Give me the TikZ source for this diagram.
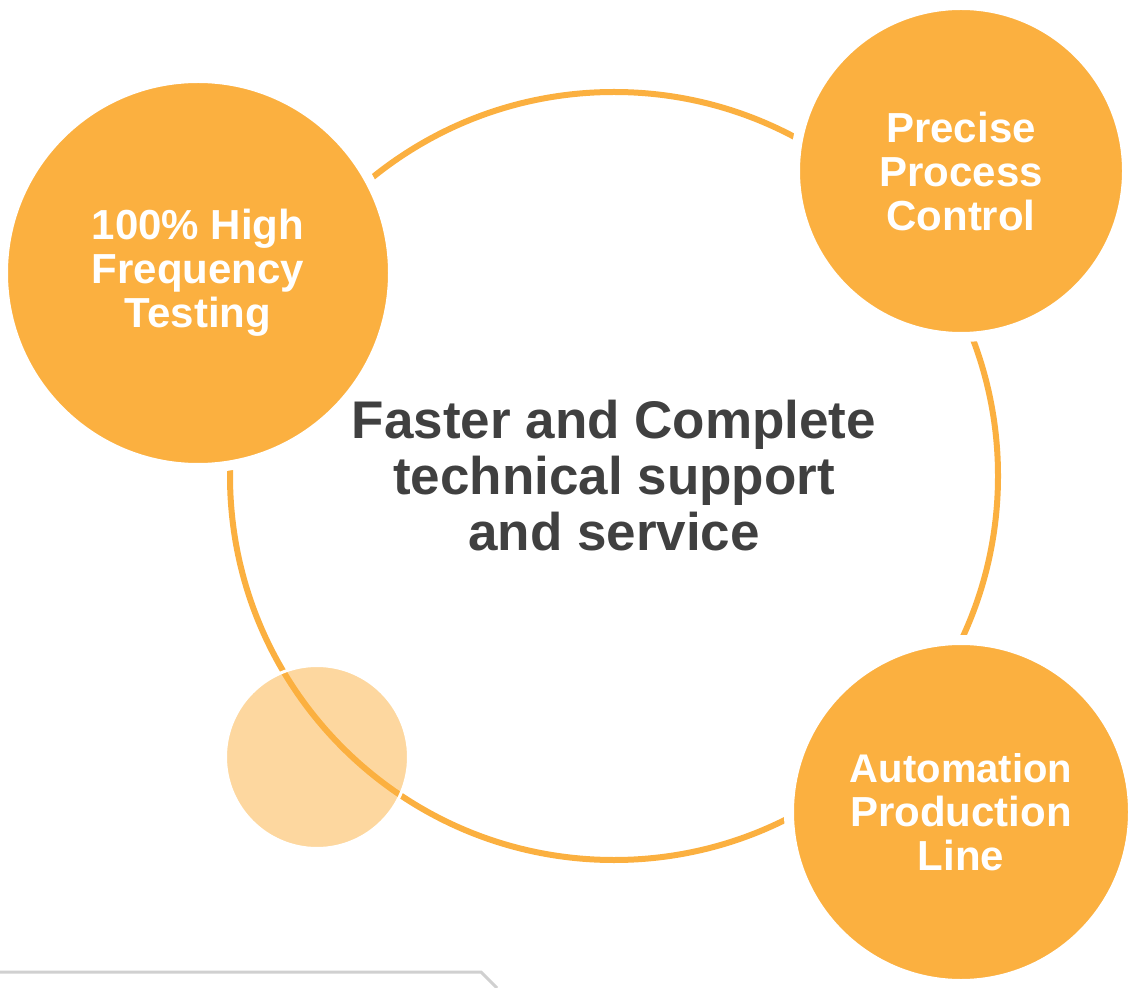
\documentclass[tikz,border=0pt]{standalone}
\usepackage{fontspec}
\setmainfont{Liberation Sans}
\definecolor{amber}{HTML}{FBB040}
\definecolor{slate}{HTML}{404040}
\definecolor{rulegray}{HTML}{D0D0D0}
\newcommand{\feature}[4]{%
 \node[feature,minimum size={#3}] ({#1}) at ({#2}) {#4};%
}
\begin{document}
\begin{tikzpicture}[x=0.5pt,y=-0.5pt,
  feature/.style={circle,fill=amber,draw=white,line width=5pt,text=white,
    inner sep=0pt,align=center,font=\bfseries\fontsize{21}{22}\selectfont}]
  \useasboundingbox (0,0) rectangle (1134,988);
  \node[circle,draw=amber,line width=3pt,minimum size=384pt] (ring) at (614,476) {};
  \node[circle,fill=amber,fill opacity=.5,draw=white,draw opacity=1,line width=1.5pt,minimum size=91.5pt] (spot) at (317,757) {};
  \feature{testing}{198,273}{195pt}{100\% High\\Frequency\\Testing};
  \feature{control}{961,171}{166pt}{Precise\\Process\\Control};
  \feature{line}{961,812}{172pt}{\fontsize{20}{20.5}\selectfont Automation\\Production\\Line};
  \node[text=slate,align=center,font=\bfseries\fontsize{26.5}{28}\selectfont] (core) at (614,476) {Faster and Complete\\technical support\\and service};
  \coordinate (base0) at (0,972);
  \coordinate (base1) at (481,972);
  \coordinate (base2) at (497,988);
  \draw[rulegray,line width=1.5pt] (base0) -- (base1) -- (base2);
\end{tikzpicture}
\end{document}
